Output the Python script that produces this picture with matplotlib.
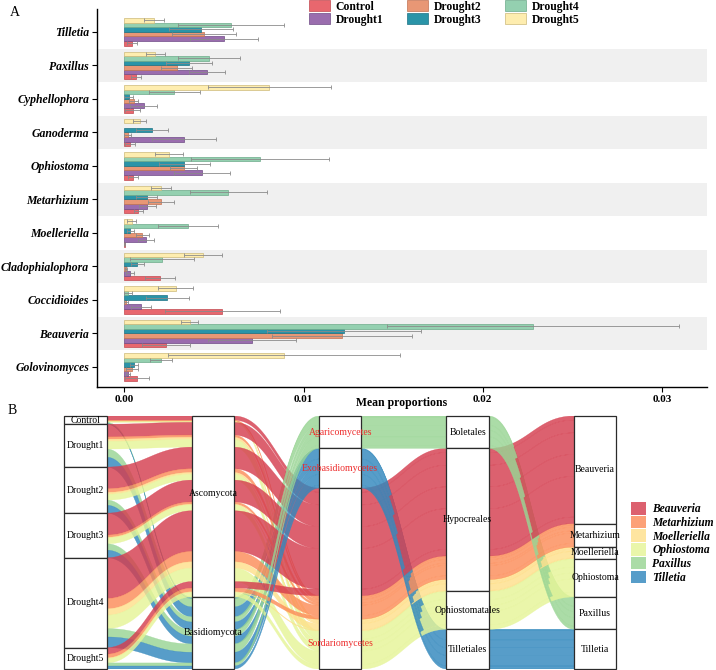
import numpy as np
import matplotlib
matplotlib.use("Agg")
import matplotlib.pyplot as plt
from matplotlib.patches import Rectangle, Patch, Polygon
from matplotlib.colors import to_rgba

plt.rcParams["font.family"] = ["Liberation Serif", "DejaVu Serif"]

# ---- panel A data: mean proportions (x1e-3) and sd, genera listed top to bottom
GENERA = ["Tilletia", "Paxillus", "Cyphellophora", "Ganoderma", "Ophiostoma",
          "Metarhizium", "Moelleriella", "Cladophialophora", "Coccidioides",
          "Beauveria", "Golovinomyces"]
GROUPS = ["Control", "Drought1", "Drought2", "Drought3", "Drought4", "Drought5"]

control_mean = [0.40, 0.62, 0.46, 0.30, 0.46, 0.78, 0.02, 1.98, 5.47, 2.31, 0.71]
control_sd = [0.28, 0.28, 0.43, 0.28, 0.28, 0.24, 0.02, 0.84, 3.20, 1.34, 0.67]
d1_mean = [5.54, 4.60, 1.08, 3.31, 4.32, 1.27, 1.19, 0.30, 0.92, 7.12, 0.19]
d1_sd = [1.90, 1.00, 0.76, 1.79, 1.56, 0.48, 0.45, 0.22, 0.54, 2.44, 0.10]
d2_mean = [4.42, 2.91, 0.52, 0.19, 3.30, 2.05, 1.00, 0.10, 0.07, 12.13, 0.43]
d2_sd = [1.79, 0.86, 0.24, 0.20, 0.74, 0.73, 0.35, 0.05, 0.10, 3.90, 0.32]
d3_mean = [4.27, 3.58, 0.24, 1.53, 3.35, 1.23, 0.32, 0.71, 2.40, 12.28, 0.52]
d3_sd = [1.80, 1.28, 0.26, 0.89, 1.42, 0.58, 0.19, 0.37, 1.19, 4.30, 0.22]
d4_mean = [5.95, 4.71, 2.79, 0.00, 7.56, 5.80, 3.54, 2.09, 0.19, 22.80, 2.05]
d4_sd = [2.98, 1.73, 1.40, 0.00, 3.85, 2.16, 1.68, 1.79, 0.22, 8.16, 0.63]
d5_mean = [1.67, 1.73, 8.09, 0.84, 2.48, 2.05, 0.40, 4.36, 2.85, 3.65, 8.90]
d5_sd = [0.56, 0.52, 3.43, 0.35, 0.78, 0.56, 0.26, 1.06, 0.97, 0.47, 6.47]

MEANS = [control_mean, d1_mean, d2_mean, d3_mean, d4_mean, d5_mean]
SDS = [control_sd, d1_sd, d2_sd, d3_sd, d4_sd, d5_sd]

BAR_COLORS = ["#E8676E", "#9A6DAE", "#E89775", "#2A94A8", "#94D0B0", "#FEEDAF"]
EDGE_COLORS = ["#C24850", "#6F4C86", "#C27252", "#1D7284", "#6DAA8A", "#CDB97A"]

# ---- panel B: taxonomy of the genera shown in the alluvial plot
ALLU_GENERA = ["Beauveria", "Metarhizium", "Moelleriella", "Ophiostoma", "Paxillus", "Tilletia"]
ALLU_PHYLUM = ["Ascomycota"] * 4 + ["Basidiomycota"] * 2
ALLU_CLASS = ["Sordariomycetes"] * 4 + ["Agaricomycetes", "Exobasidiomycetes"]
ALLU_ORDER = ["Hypocreales"] * 3 + ["Ophiostomatales", "Boletales", "Tilletiales"]
ALLU_COLORS = ["#D53E4F", "#FC8D59", "#FEE08B", "#E6F598", "#99D594", "#3288BD"]

AXIS_LEVELS = [GROUPS,
               ["Ascomycota", "Basidiomycota"],
               ["Agaricomycetes", "Exobasidiomycetes", "Sordariomycetes"],
               ["Boletales", "Hypocreales", "Ophiostomatales", "Tilletiales"],
               ALLU_GENERA]
# lode ordering inside strata (which axes decide the stacking)
KEY_ORDER = [[0, 1, 2, 3, 4], [1, 0, 2, 3, 4], [2, 3, 4, 1, 0], [3, 2, 4, 1, 0], [4, 3, 2, 1, 0]]
LABEL_FRAC = {"Ascomycota": 0.43, "Sordariomycetes": 0.86}

W, H = 716, 670
fig = plt.figure(figsize=(W / 100, H / 100), dpi=100)


def px_axes(x0, y0, x1, y1):
    return fig.add_axes([x0 / W, 1 - y1 / H, (x1 - x0) / W, (y1 - y0) / H])


# ================= A =================
ax = px_axes(96.7, 9, 706.7, 387)
n = len(GENERA)
ypos = np.arange(n)[::-1].astype(float)
bar_h = 0.137
for i in range(n):
    if i % 2 == 1:
        ax.axhspan(ypos[i] - 0.5, ypos[i] + 0.5, color="#F0F0F0", lw=0, zorder=0)

handles = []
for j, g in enumerate(GROUPS):
    m = np.array(MEANS[j]) * 1e-3
    s = np.array(SDS[j]) * 1e-3
    y = ypos + (j - 2.5) * bar_h
    ok = m > 0
    bc = ax.barh(y[ok], m[ok], height=bar_h, color=BAR_COLORS[j],
                 edgecolor=EDGE_COLORS[j], lw=0.5, zorder=2)
    handles.append(bc)
    ok = s > 0
    ax.errorbar(m[ok], y[ok], xerr=s[ok], fmt="none", ecolor="#8a8a8a",
                alpha=0.85, elinewidth=0.7, capsize=1.2, capthick=0.7, zorder=3)

ax.set_xlim(-0.00155, 0.0325)
ax.set_ylim(-0.6, 10.68)
ax.set_yticks(ypos)
ax.set_yticklabels(GENERA, fontstyle="italic", fontweight="bold", fontsize=8.5)
ax.set_xticks([0, 0.01, 0.02, 0.03])
ax.set_xticklabels(["0.00", "0.01", "0.02", "0.03"], fontweight="bold", fontsize=8)
for s_ in ("top", "right"):
    ax.spines[s_].set_visible(False)
for s_ in ("left", "bottom"):
    ax.spines[s_].set_linewidth(1.0)
ax.tick_params(length=3.5, width=0.8, pad=2)
ax.text(0.5, -0.0415, "Mean proportions", transform=ax.transAxes, ha="center",
        va="center", fontsize=8.5, fontweight="bold")

fig.legend(handles, GROUPS, loc="upper left", bbox_to_anchor=(309 / W, 1.0),
           ncol=3, frameon=False, borderpad=0, borderaxespad=0,
           handlelength=1.8, handleheight=1.1, handletextpad=0.5,
           columnspacing=2.0, labelspacing=0.05,
           prop=dict(weight="bold", size=8.4))

fig.text(10 / W, 1 - 12 / H, "A", fontsize=10, ha="left", va="center")
fig.text(8 / W, 1 - 410 / H, "B", fontsize=10, ha="left", va="center")

# ================= B =================
bx = px_axes(34.5, 416, 646, 669)
bw = 1 / 3

alluvia = []
for gi, g in enumerate(GROUPS):
    for ki, k in enumerate(ALLU_GENERA):
        w = MEANS[gi][GENERA.index(k)]
        vals = [g, ALLU_PHYLUM[ki], ALLU_CLASS[ki], ALLU_ORDER[ki], k]
        idx = [AXIS_LEVELS[a].index(v) for a, v in enumerate(vals)]
        alluvia.append(dict(w=w, vals=vals, idx=idx, top=[0] * 5, bot=[0] * 5))

total = sum(a["w"] for a in alluvia)
strata = []
for a in range(5):
    order = sorted(alluvia, key=lambda d: tuple(d["idx"][b] for b in KEY_ORDER[a]))
    cum = 0.0
    for d in order:
        d["top"][a] = cum
        cum += d["w"]
        d["bot"][a] = cum
    for lev in AXIS_LEVELS[a]:
        members = [d for d in alluvia if d["vals"][a] == lev]
        t = min(d["top"][a] for d in members)
        b = max(d["bot"][a] for d in members)
        strata.append((a, lev, t, b))


def sigmoid(x0, x1, y0, y1, k=0.45, npts=40):
    t = np.linspace(0, 1, npts)
    dx = x1 - x0
    px = [x0, x0 + k * dx, x1 - k * dx, x1]
    py = [y0, y0, y1, y1]
    bx_ = ((1 - t) ** 3 * px[0] + 3 * (1 - t) ** 2 * t * px[1]
           + 3 * (1 - t) * t ** 2 * px[2] + t ** 3 * px[3])
    by_ = ((1 - t) ** 3 * py[0] + 3 * (1 - t) ** 2 * t * py[1]
           + 3 * (1 - t) * t ** 2 * py[2] + t ** 3 * py[3])
    return bx_, by_


for d in alluvia:
    if d["w"] <= 0:
        continue
    xs_t, ys_t, xs_b, ys_b = [], [], [], []
    for a in range(5):
        xc = a + 1
        xs_t += [xc - bw / 2, xc + bw / 2]
        ys_t += [d["top"][a]] * 2
        xs_b += [xc - bw / 2, xc + bw / 2]
        ys_b += [d["bot"][a]] * 2
        if a < 4:
            cx, cy = sigmoid(xc + bw / 2, xc + 1 - bw / 2, d["top"][a], d["top"][a + 1])
            xs_t += list(cx[1:-1]); ys_t += list(cy[1:-1])
            cx, cy = sigmoid(xc + bw / 2, xc + 1 - bw / 2, d["bot"][a], d["bot"][a + 1])
            xs_b += list(cx[1:-1]); ys_b += list(cy[1:-1])
    pts = np.column_stack([xs_t + xs_b[::-1], ys_t + ys_b[::-1]])
    col = to_rgba(ALLU_COLORS[d["idx"][4]], 0.82)
    bx.add_patch(Polygon(pts, closed=True, facecolor=col, edgecolor=col, lw=0.25, zorder=1))

for a, lev, t, b in strata:
    bx.add_patch(Rectangle((a + 1 - bw / 2, t), bw, b - t, facecolor="white",
                           edgecolor="#2b2b2b", lw=0.9, zorder=3, clip_on=False))
    frac = LABEL_FRAC.get(lev, 0.5)
    bx.text(a + 1, t + frac * (b - t), lev, ha="center", va="center", fontsize=7,
            color="#EE2C2C" if a == 2 else "black", zorder=4)

bx.set_xlim(0.6, 5.4)
bx.set_ylim(total, 0)
bx.axis("off")

leg_handles = [Patch(facecolor=to_rgba(c, 0.82), edgecolor="none") for c in ALLU_COLORS]
fig.legend(leg_handles, ALLU_GENERA, loc="upper left", bbox_to_anchor=(631 / W, 1 - 502 / H),
           frameon=False, borderpad=0, borderaxespad=0, handlelength=1.3,
           handleheight=1.3, handletextpad=0.55, labelspacing=0.05,
           prop=dict(weight="bold", style="italic", size=8.3))

fig.savefig("out.png", dpi=100)
